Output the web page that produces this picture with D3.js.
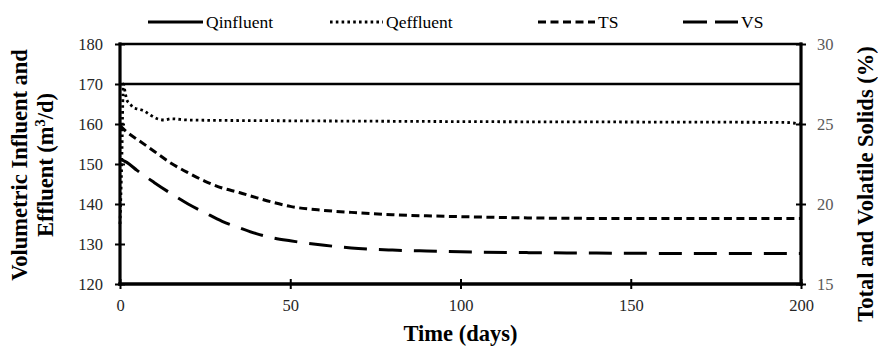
<!DOCTYPE html>
<html>
<head>
<meta charset="utf-8">
<script src="https://cdn.jsdelivr.net/npm/d3@7/dist/d3.min.js"></script>
<style>
  html, body { margin: 0; padding: 0; background: #fff; }
  svg { display: block; }
  svg text { font-family: "Liberation Serif", "Times New Roman", serif; }
</style>
</head>
<body>
<svg id="chart" width="878" height="347"></svg>
<script>
// ---------- DATA ----------
const seriesNames = ["Qinfluent", "Qeffluent", "TS", "VS"];

const influentDays   = [0, 200];
const influentValues = [170, 170];            // m3/d (left axis)

const effluentDays   = [0, 0.5, 1, 1.5, 2, 3, 4, 5, 7, 9, 11, 13, 15, 20, 30, 50, 75, 100, 150, 195, 200];
const effluentValues = [135, 150, 170, 168, 166, 165, 164, 163.8, 163.3, 162.2, 161.3, 161.0, 161.3, 161.0, 160.9, 160.8, 160.7, 160.6, 160.5, 160.4, 160.0]; // m3/d

const solidsDays = [0, 2, 5, 10, 15, 20, 25, 30, 35, 40, 45, 50, 60, 70, 80, 90, 100, 120, 140, 160, 180, 200];
const tsValues   = [24.9, 24.5, 24.05, 23.3, 22.55, 21.95, 21.42, 21.0, 20.72, 20.4, 20.1, 19.85, 19.6, 19.45, 19.33, 19.26, 19.21, 19.13, 19.1, 19.1, 19.1, 19.1]; // %
const vsValues   = [22.8, 22.6, 22.1, 21.35, 20.65, 20.0, 19.45, 18.92, 18.52, 18.15, 17.88, 17.7, 17.42, 17.22, 17.12, 17.06, 17.01, 16.96, 16.93, 16.91, 16.9, 16.9]; // %

const xTicks      = [0, 50, 100, 150, 200];
const yLeftTicks  = [120, 130, 140, 150, 160, 170, 180];
const yRightTicks = [15, 20, 25, 30];

// ---------- LAYOUT ----------
const FONT = "Liberation Serif, Times New Roman, serif";
const plot = { left: 120, right: 801, top: 44, bottom: 284 };
const svg = d3.select("#chart");

const x  = d3.scaleLinear().domain([0, 200]).range([plot.left, plot.right]);
const yL = d3.scaleLinear().domain([120, 180]).range([plot.bottom, plot.top]);
const yR = d3.scaleLinear().domain([15, 30]).range([plot.bottom, plot.top]);

const styles = {
  Qinfluent: { width: 2.6, dash: null },
  Qeffluent: { width: 2.8, dash: "2.6,3.2" },
  TS:        { width: 3,   dash: "8,4.5" },
  VS:        { width: 3,   dash: "23,12" }
};

// ---------- SERIES ----------
const lineL = d3.line().x(d => x(d[0])).y(d => yL(d[1])).curve(d3.curveMonotoneX);
const lineR = d3.line().x(d => x(d[0])).y(d => yR(d[1])).curve(d3.curveMonotoneX);

const seriesData = [
  { name: "Qinfluent", gen: lineL, pts: d3.zip(influentDays, influentValues) },
  { name: "Qeffluent", gen: lineL, pts: d3.zip(effluentDays, effluentValues) },
  { name: "TS",        gen: lineR, pts: d3.zip(solidsDays, tsValues) },
  { name: "VS",        gen: lineR, pts: d3.zip(solidsDays, vsValues) }
];

svg.append("g").selectAll("path").data(seriesData).join("path")
  .attr("d", d => d.gen(d.pts))
  .attr("fill", "none")
  .attr("stroke", "#000")
  .attr("stroke-width", d => styles[d.name].width)
  .attr("stroke-dasharray", d => styles[d.name].dash);

// ---------- AXES ----------
const tickFont = 16.5;
function styleAxis(g, color) {
  g.attr("font-family", FONT);
  g.select(".domain").remove();
  g.selectAll(".tick line").attr("stroke", "#000").attr("stroke-width", 2);
  g.selectAll(".tick text")
    .attr("font-family", FONT)
    .attr("font-size", tickFont)
    .attr("fill", color);
}

const gL = svg.append("g").attr("transform", `translate(${plot.left},0)`)
  .call(d3.axisLeft(yL).tickValues(yLeftTicks).tickSize(5).tickPadding(12).tickFormat(d3.format("d")));
styleAxis(gL, "#262626");
gL.selectAll(".tick line").attr("x1", 5);

const gR = svg.append("g").attr("transform", `translate(${plot.right},0)`)
  .call(d3.axisRight(yR).tickValues(yRightTicks).tickSize(5).tickPadding(11).tickFormat(d3.format("d")));
styleAxis(gR, "#595959");
gR.selectAll(".tick line").attr("x1", -5);

const gB = svg.append("g").attr("transform", `translate(0,${plot.bottom})`)
  .call(d3.axisBottom(x).tickValues(xTicks).tickSize(5).tickPadding(10).tickFormat(d3.format("d")));
styleAxis(gB, "#262626");
gB.selectAll(".tick line").attr("y1", -5);

const frame = svg.append("g").attr("stroke", "#000").attr("stroke-linecap", "square");
frame.append("line").attr("x1", plot.left).attr("x2", plot.right).attr("y1", plot.top).attr("y2", plot.top).attr("stroke-width", 2.6);
frame.append("line").attr("x1", plot.left).attr("x2", plot.left).attr("y1", plot.top).attr("y2", plot.bottom).attr("stroke-width", 3.2);
frame.append("line").attr("x1", plot.right).attr("x2", plot.right).attr("y1", plot.top).attr("y2", plot.bottom).attr("stroke-width", 3.2);
frame.append("line").attr("x1", plot.left).attr("x2", plot.right).attr("y1", plot.bottom).attr("y2", plot.bottom).attr("stroke-width", 3.6);

// ---------- TITLES ----------
const titleFont = 22.5;
svg.append("text")
  .attr("x", (plot.left + plot.right) / 2).attr("y", 341)
  .attr("text-anchor", "middle").attr("font-weight", "bold").attr("font-size", titleFont)
  .attr("font-family", FONT)
  .text("Time (days)");

const leftTitle = svg.append("text")
  .attr("transform", `translate(27,${(plot.top + plot.bottom) / 2 + 1}) rotate(-90)`)
  .attr("text-anchor", "middle").attr("font-weight", "bold").attr("font-size", titleFont)
  .attr("font-family", FONT);
leftTitle.append("tspan").attr("x", 0).attr("dy", 0).text("Volumetric Influent and");
const l2 = leftTitle.append("tspan").attr("x", 0).attr("dy", 26);
l2.append("tspan").text("Effluent (m");
l2.append("tspan").attr("font-size", 14.5).attr("dy", -8).text("3");
l2.append("tspan").attr("dy", 8).text("/d)");

svg.append("text")
  .attr("transform", `translate(873,${(plot.top + plot.bottom) / 2 + 20}) rotate(-90)`)
  .attr("text-anchor", "middle").attr("font-weight", "bold").attr("font-size", titleFont)
  .attr("font-family", FONT)
  .text("Total and Volatile Solids (%)");

// ---------- LEGEND ----------
const legendStarts = [148, 330, 538, 683];
const legendSample = [55, 53, 57, 55];
const legendY = 22;
const lg = svg.append("g").selectAll("g").data(seriesNames).join("g")
  .attr("transform", (d, i) => `translate(${legendStarts[i]},${legendY})`);
lg.append("line")
  .attr("x1", 0).attr("x2", (d, i) => legendSample[i])
  .attr("y1", 0).attr("y2", 0)
  .attr("stroke", "#000")
  .attr("stroke-width", d => d === "Qinfluent" ? 3 : styles[d].width)
  .attr("stroke-dasharray", d => d === "VS" ? "24,8" : styles[d].dash);
lg.append("text")
  .attr("x", (d, i) => legendSample[i] + 3).attr("y", 6)
  .attr("font-size", 17.5).attr("fill", "#000")
  .attr("font-family", FONT)
  .text(d => d);
</script>
</body>
</html>
